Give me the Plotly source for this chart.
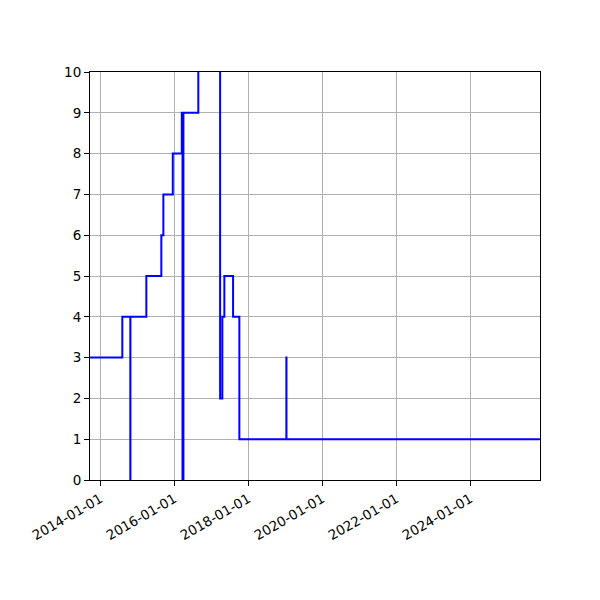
import plotly.graph_objects as go

# step series (values above 10 are clipped by the axis)
dates = [
    "2013-09-21", "2014-08-06", "2014-10-24", "2014-10-25", "2015-03-31",
    "2015-08-26", "2015-09-15", "2015-12-17", "2016-03-15", "2016-03-22",
    "2016-03-31", "2016-08-25", "2017-03-28", "2017-04-19", "2017-05-09",
    "2017-08-03", "2017-10-04", "2019-01-11", "2019-01-12", "2025-11-18",
]
values = [
    3, 4, 0, 4, 5,
    6, 7, 8, 9, 0,
    9, 11, 2, 4, 5,
    4, 1, 3, 1, 1,
]

fig = go.Figure()
fig.add_trace(go.Scatter(
    x=dates, y=values, mode="lines", line_shape="hv",
    line=dict(color="#0000ff", width=2), showlegend=False,
))

axis_style = dict(
    showline=True, linecolor="black", linewidth=1, mirror=True,
    showgrid=True, gridcolor="#b0b0b0", gridwidth=1,
    ticks="outside", ticklen=5, tickcolor="black", zeroline=False,
    tickfont=dict(family="DejaVu Sans", size=13.5, color="black"),
)

fig.update_xaxes(
    range=["2013-09-21", "2025-11-18"], tick0="2014-01-01", dtick="M24",
    tickformat="%Y-%m-%d", tickangle=-30, **axis_style,
)
fig.update_yaxes(range=[0, 10], dtick=1, **axis_style)

# page body adds an 8px offset, so margins are shifted to compensate
fig.update_layout(
    width=600, height=600,
    margin=dict(l=82, r=68, t=64, b=128),
    plot_bgcolor="white", paper_bgcolor="white",
)

fig.write_html("out.html")
